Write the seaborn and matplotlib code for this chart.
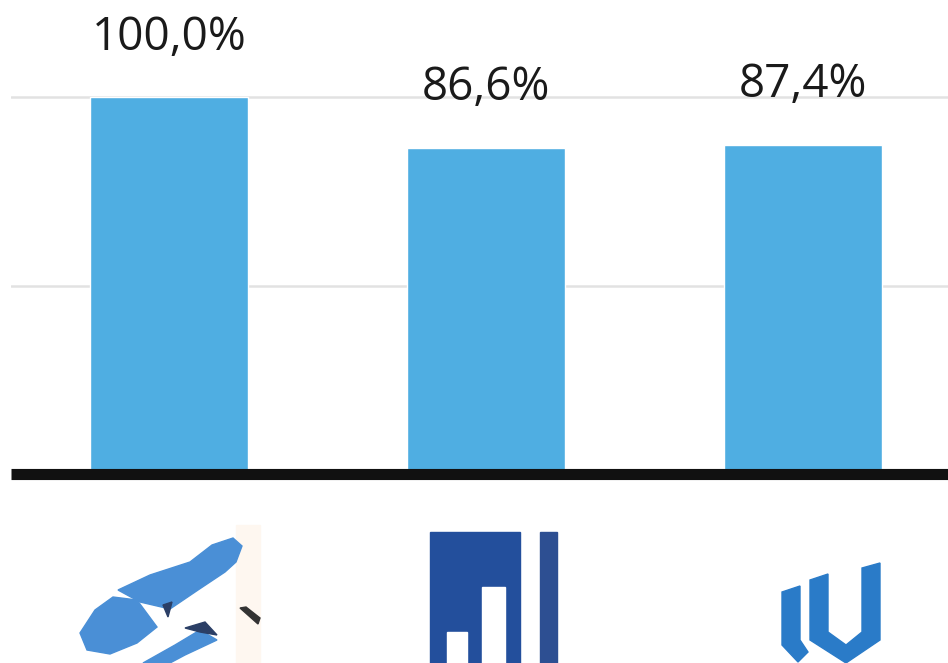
import matplotlib
matplotlib.use("Agg")
import matplotlib.pyplot as plt
import matplotlib.patches as mpatches
import pandas as pd
import seaborn as sns

# --- data ---
brands = ["Brand 1", "Brand 2", "Brand 3"]
share = [1.000, 0.866, 0.874]
labels = ["100,0%", "86,6%", "87,4%"]

df = pd.DataFrame({"brand": brands, "share": share})

sns.set_theme(style="white")
plt.rcParams["font.family"] = ["Open Sans", "DejaVu Sans"]

W, H = 948, 663
fig = plt.figure(figsize=(W / 100, H / 100), dpi=100)

# main bar axes: zero line at ~474 px from top, top of figure at 0 px
zero_px = 474
ax = fig.add_axes([11 / W, (H - zero_px) / H, 1 - 11 / W, zero_px / H])
sns.barplot(data=df, x="brand", y="share", color="#4FAEE2", width=0.5,
            saturation=1, ax=ax, zorder=2)
ax.set_xlim(-0.498, 2.457)
ax.set_ylim(0, zero_px / 377)

for y in (0.5, 1.0):
    ax.axhline(y, color="#e2e2e2", lw=1.8, zorder=1)
ax.axhline(0, color="#111111", lw=8, zorder=3, solid_capstyle="butt",
           clip_on=False)

for p, lab in zip(ax.patches, labels):
    ax.annotate(lab, (p.get_x() + p.get_width() / 2, p.get_height()),
                xytext=(0, 26), textcoords="offset points",
                ha="center", va="bottom", fontsize=33, color="#1a1a1a")

ax.set_xlabel("")
ax.set_ylabel("")
ax.set_xticks([])
ax.set_yticks([])
for s in ax.spines.values():
    s.set_visible(False)
ax.patch.set_alpha(0)

# --- rough logo sketches under the bars (pixel space) ---
lx = fig.add_axes([0, 0, 1, (H - 484) / H])
lx.set_xlim(0, W)
lx.set_ylim(H, 484)
lx.axis("off")

# logo 1: blue shoe shape
lx.add_patch(mpatches.Rectangle((236, 525), 24, 138, color="#fef7f0", zorder=0))
shoe = "#4a8fd6"
lx.add_patch(mpatches.Polygon([(118, 590), (150, 575), (190, 562), (212, 545),
                               (233, 538), (242, 546), (236, 562), (225, 572),
                               (198, 590), (170, 609), (140, 602)], color=shoe))
lx.add_patch(mpatches.Polygon([(80, 633), (95, 610), (113, 597), (137, 600),
                               (157, 627), (137, 643), (110, 654), (87, 650)],
                              color=shoe))
lx.add_patch(mpatches.Polygon([(143, 663), (175, 645), (200, 630), (217, 640),
                               (185, 655), (170, 663)], color=shoe))
lx.add_patch(mpatches.Polygon([(185, 628), (205, 622), (217, 635), (200, 632)],
                              color="#2b3f66"))
lx.add_patch(mpatches.Polygon([(163, 605), (172, 602), (168, 617)],
                              color="#2b3f66"))
lx.add_patch(mpatches.Polygon([(240, 608), (246, 607), (260, 618), (258, 624)],
                              color="#333333"))

# logo 2: dark blue bars
dark = "#234f9c"
lx.add_patch(mpatches.Rectangle((430, 532), 90, 131, color=dark))
lx.add_patch(mpatches.Rectangle((447, 632), 20, 31, color="white"))
lx.add_patch(mpatches.Rectangle((482, 587), 23, 76, color="white"))
lx.add_patch(mpatches.Rectangle((540, 532), 17, 131, color="#2d4f92"))

# logo 3: "lU" mark
mid = "#2a7bc8"
lx.add_patch(mpatches.Polygon([(782, 592), (800, 586), (800, 640), (808, 652),
                               (798, 662), (782, 645)], color=mid))
lx.add_patch(mpatches.Polygon([(810, 580), (828, 574), (828, 632), (846, 645),
                               (862, 632), (862, 568), (880, 563), (880, 640),
                               (846, 663), (810, 640)], color=mid))

fig.savefig("out.png", dpi=100)
